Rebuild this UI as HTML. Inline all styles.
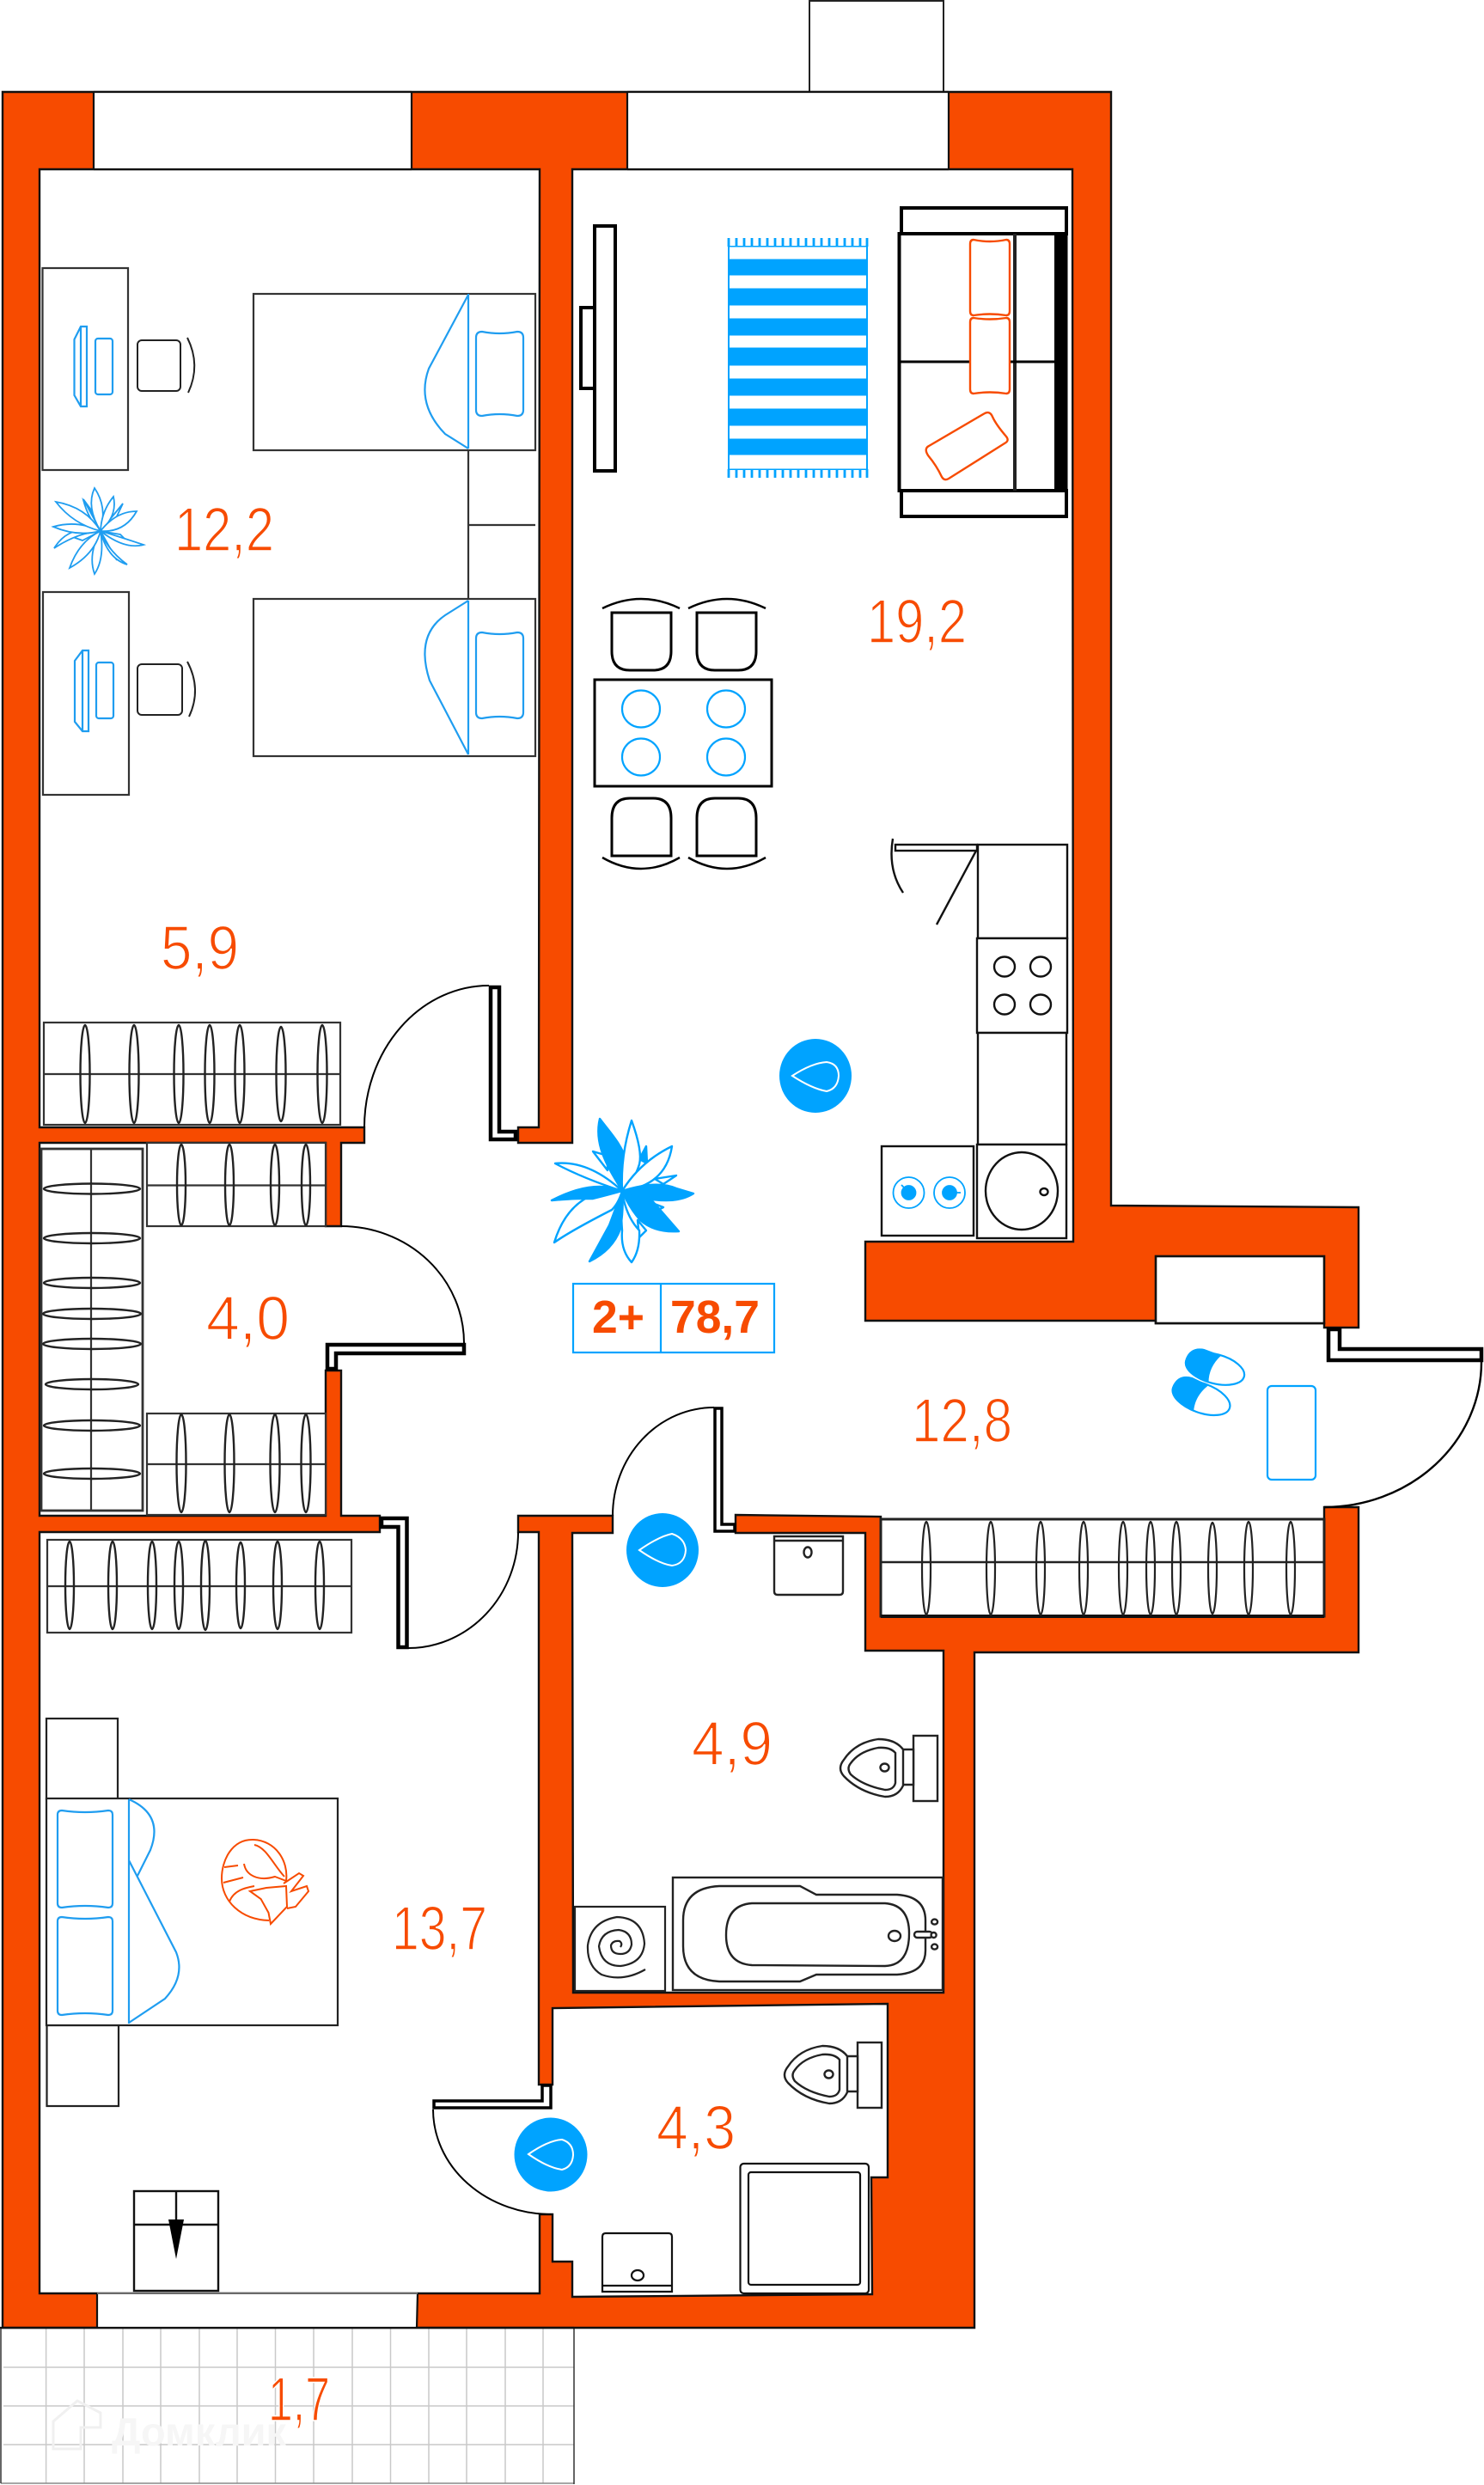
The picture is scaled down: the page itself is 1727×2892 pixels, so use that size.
<!DOCTYPE html>
<html><head><meta charset="utf-8"><style>
html,body{margin:0;padding:0;background:#fff}
svg{display:block}
.l{font-family:"Liberation Sans",sans-serif;font-size:72px;fill:#F74B00;stroke:#fff;stroke-width:1.6px}
.b{font-family:"Liberation Sans",sans-serif;font-size:54px;font-weight:bold;fill:#F74B00}
</style></head><body>
<svg xmlns="http://www.w3.org/2000/svg" width="1727" height="2892" viewBox="0 0 1727 2892">
<rect width="1727" height="2892" fill="#fff"/>
<!-- balcony -->
<g stroke="#c9c9c9" stroke-width="1.5" fill="none">
<path d="M53.6 2709V2890M98 2709V2890M143 2709V2890M187 2709V2890M232 2709V2890M276 2709V2890M320.5 2709V2890M365 2709V2890M410 2709V2890M454.5 2709V2890M499 2709V2890M543 2709V2890M588 2709V2890M632 2709V2890"/>
<path d="M4 2755H668M4 2800H668M4 2845H668"/>
<path d="M1 2890H668" stroke="#888"/>
</g>
<path d="M1 2709V2890M668 2709V2891" stroke="#333" stroke-width="1.5"/>
<path d="M62 2818L90 2794L117 2808V2825H94V2850H62Z" fill="none" stroke="#f0f0f0" stroke-width="3"/>
<text x="130" y="2846" font-family="Liberation Sans,sans-serif" font-size="46" font-weight="bold" fill="#f6f6f6" textLength="203" lengthAdjust="spacingAndGlyphs">Домклик</text>
<!-- top block -->
<rect x="942" y="1" width="156" height="106" fill="#fff" stroke="#222" stroke-width="2"/>
<!-- walls -->
<path fill="#F74B00" stroke="#111" stroke-width="2.4" stroke-linejoin="miter" d="M3 107H1293V1403L1581 1405V1545H1541V1540H1345V1537H1007V1445H1249L1248 197H666V1330H603V1312H627L628 197H46V1312H424V1330H397V1427H379V1330H46V1764H379V1595H397V1764H442V1783H46V2669H628V2577H643V2632H666V2673L1015 2670L1014 2534H1033V2332L643 2337V2426H627V1783H603V1764H713V1784H666L667 2319H1098L1098 1921H1007V1784H856V1763L1025 1765V1881H1541V1754H1581V1923H1134V2709H3Z"/>
<!-- windows / niche -->
<g fill="#fff" stroke="#111" stroke-width="2.2">
<rect x="109" y="108" width="370" height="89" stroke="none"/>
<path d="M109 107V197M479 197V107M109 107H479M109 197H479" fill="none"/>
<rect x="730" y="108" width="374" height="89" stroke="none"/>
<path d="M730 107V197M1104 197V107M730 107H1104M730 197H1104" fill="none"/>
<rect x="1345" y="1462" width="196" height="78" stroke-width="2.6"/>
<rect x="113" y="2670" width="373" height="38.5" stroke="none"/>
<path d="M113 2669V2709M486 2669L485 2709" fill="none"/>
<path d="M113 2669H486" fill="none" stroke="#888" stroke-width="1.5"/>
<path d="M0 2709H668" fill="none"/>
</g>
<!-- bedroom 1 -->
<g fill="none" stroke="#333" stroke-width="2.2">
<rect x="49.500" y="312" width="99.500" height="235"/>
<rect x="50" y="689" width="100" height="236"/>
<rect x="295" y="342" width="328" height="182"/>
<rect x="295" y="697" width="328" height="183"/>
<path d="M545 524V697M545 611H623"/>
</g>
<g fill="none" stroke="#222" stroke-width="2">
<rect x="160" y="396" width="50" height="59" rx="5"/>
<path d="M218 393Q234 425 219 457"/>
<rect x="160" y="773" width="52" height="59" rx="5"/>
<path d="M218 770Q235 802 220 834"/>
</g>
<g fill="none" stroke="#1F9DF0" stroke-width="2.200">
<path d="M86.500 395L94 380H101V473H94L86.500 460Z M94 380V473"/>
<rect x="111" y="394" width="20" height="65" rx="3"/>
<path d="M87 769L96 757H103V851H96L87 840Z M96 757V851"/>
<rect x="112" y="771" width="20" height="65" rx="3"/>
<path d="M545 342V522M545 343L499 429Q484 470 518 505L545 522"/>
<path d="M561 386Q581.500 390 602 386Q609 386 609 393V477Q609 484 602 484Q581.500 480 561 484Q554 484 554 477V393Q554 386 561 386Z"/>
<path d="M545 699V878M545 699L518 716Q483 740 500 792L545 878"/>
<path d="M561 736Q581.500 740 602 736Q609 736 609 743V829Q609 836 602 836Q581.500 832 561 836Q554 836 554 829V743Q554 736 561 736Z"/>
<!-- small plant -->
<g stroke-width="1.8" fill="#fff">
<path d="M117 618L97 581L105 592Z M117 618L100 585L97 582Q103 605 117 618Z"/>
<path d="M117 618L143 586L134 605Z"/>
<path d="M117 618L150 632L140 622Z"/>
<path d="M117 618L136 652L128 638Z"/>
<path d="M117 618L92 650L104 640Z"/>
<path d="M117 618L82 624L96 629Z"/>
<path d="M117 618Q100 590 110 568Q125 590 117 618Z"/>
<path d="M117 618Q118 595 132 578Q137 600 117 618Z"/>
<path d="M117 618Q135 595 159 595Q145 620 117 618Z"/>
<path d="M117 618Q140 625 167 634Q145 640 117 618Z"/>
<path d="M117 618Q125 640 148 657Q125 650 117 618Z"/>
<path d="M117 618Q122 650 110 668Q102 645 117 618Z"/>
<path d="M117 618Q110 645 81 661Q92 630 117 618Z"/>
<path d="M117 618Q90 620 63 638Q80 610 117 618Z"/>
<path d="M117 618Q90 625 62 613Q90 605 117 618Z"/>
<path d="M117 618Q85 610 65 584Q100 590 117 618Z"/>
</g>
</g>
<!-- living: tv -->
<g fill="#fff" stroke="#000" stroke-width="4">
<rect x="676" y="358" width="17" height="94"/>
<rect x="692" y="263" width="24" height="285"/>
</g>
<!-- rug -->
<g>
<rect x="847" y="286" width="163" height="261" fill="#00A3FF"/>
<g fill="#fff">
<rect x="849" y="287.500" width="159" height="14"/>
<rect x="849" y="320.500" width="159" height="15"/>
<rect x="849" y="355.500" width="159" height="15"/>
<rect x="849" y="390.500" width="159" height="14"/>
<rect x="849" y="425.500" width="159" height="15"/>
<rect x="849" y="460.500" width="159" height="15"/>
<rect x="849" y="495.500" width="159" height="15"/>
<rect x="849" y="529.500" width="159" height="16"/>
</g>
<path stroke="#00A3FF" stroke-width="2.800" fill="none" d="M848 277V287M857 277V287M866 277V287M875 277V287M884 277V287M893 277V287M902 277V287M911 277V287M920 277V287M929 277V287M938 277V287M947 277V287M956 277V287M965 277V287M974 277V287M983 277V287M992 277V287M1001 277V287M1009 277V287M848 546V556M857 546V556M866 546V556M875 546V556M884 546V556M893 546V556M902 546V556M911 546V556M920 546V556M929 546V556M938 546V556M947 546V556M956 546V556M965 546V556M974 546V556M983 546V556M992 546V556M1001 546V556M1009 546V556"/>
</g>
<!-- sofa -->
<g fill="#fff" stroke="#000" stroke-width="4">
<rect x="1049" y="242" width="192" height="30"/>
<rect x="1049" y="571" width="192" height="30"/>
<rect x="1046.500" y="272" width="194" height="299"/>
<path d="M1181 272V571" fill="none" stroke="#222"/>
<path d="M1047 421H1228" fill="none" stroke-width="3"/>
<rect x="1227" y="272" width="14" height="299" fill="#000" stroke="none"/>
</g>
<g fill="#fff" stroke="#F74B00" stroke-width="2.400">
<path d="M1133 279Q1152 283 1171 279Q1175 279 1175 284V362Q1175 367 1171 367Q1152 364 1133 367Q1129 367 1129 362V284Q1129 279 1133 279Z"/>
<path d="M1133 370Q1152 373 1171 370Q1175 370 1175 375V453Q1175 458 1171 458Q1152 455 1133 458Q1129 458 1129 453V375Q1129 370 1133 370Z"/>
<path d="M1081 519L1146 481Q1152 478 1155 485Q1159 494 1171 508Q1175 513 1169 516L1104 557Q1099 560 1096 555Q1090 542 1080 530Q1075 522 1081 519Z"/>
</g>
<!-- dining -->
<g fill="#fff" stroke="#000" stroke-width="3">
<rect x="692" y="791" width="206" height="124"/>
<path d="M712 713H781V758Q781 780 760 780H733Q712 780 712 758Z"/>
<path d="M811 713H880V758Q880 780 859 780H832Q811 780 811 758Z"/>
<path d="M712 996H781V952Q781 929 760 929H733Q712 929 712 952Z"/>
<path d="M811 996H880V952Q880 929 859 929H832Q811 929 811 952Z"/>
<path fill="none" d="M701 708Q746 686 791 708M801 708Q846 686 891 708M701 998Q746 1024 791 998M801 998Q846 1024 891 998" stroke-width="2.500"/>
</g>
<g fill="none" stroke="#00A3FF" stroke-width="2.200">
<ellipse cx="746" cy="825" rx="22" ry="21.500"/><ellipse cx="845" cy="825" rx="22" ry="21.500"/>
<ellipse cx="746" cy="881" rx="22" ry="21.500"/><ellipse cx="845" cy="881" rx="22" ry="21.500"/>
</g>
<!-- kitchen -->
<g fill="#fff" stroke="#111" stroke-width="2.400">
<rect x="1138" y="983" width="104" height="109"/>
<rect x="1137" y="1092" width="105" height="110"/>
<rect x="1138" y="1202" width="103" height="130"/>
<rect x="1137" y="1332" width="104" height="109"/>
<rect x="1026" y="1334" width="107" height="104"/>
<ellipse cx="1169" cy="1125" rx="12" ry="11.500"/><ellipse cx="1211" cy="1125" rx="12" ry="11.500"/>
<ellipse cx="1169" cy="1169" rx="12" ry="11.500"/><ellipse cx="1211" cy="1169" rx="12" ry="11.500"/>
<ellipse cx="1189" cy="1386" rx="42" ry="45"/>
<ellipse cx="1215" cy="1387" rx="4.500" ry="4"/>
<rect x="1042" y="983" width="95" height="7"/>
<path d="M1136 990L1090 1076M1039 976Q1033 1012 1051 1039" fill="none"/>
</g>
<g fill="none" stroke="#00A3FF" stroke-width="1.800">
<circle cx="1057.500" cy="1388" r="18"/><circle cx="1105" cy="1388" r="18"/>
<circle cx="1057.500" cy="1388" r="8" fill="#00A3FF"/><circle cx="1105" cy="1388" r="8" fill="#00A3FF"/>
<path d="M1049 1379L1055 1385M1110 1388H1118"/>
</g>
<!-- closets -->
<g fill="#fff" stroke="#333" stroke-width="2.200">
<rect x="51" y="1190" width="345" height="119"/>
<path d="M51 1250H396"/>
<rect x="171" y="1330" width="208" height="97"/>
<path d="M171 1379.500H379"/>
<rect x="48" y="1337" width="118" height="421" stroke-width="2.800"/>
<path d="M106 1337V1758"/>
<rect x="171" y="1645" width="208" height="118"/>
<path d="M171 1704H379"/>
<rect x="55" y="1792" width="354" height="108"/>
<path d="M55 1846H409"/>
</g>
<g fill="none" stroke="#222" stroke-width="2.400">
<ellipse cx="99" cy="1250" rx="5.500" ry="57"/><ellipse cx="156" cy="1250" rx="5.500" ry="57"/><ellipse cx="208" cy="1250" rx="5.500" ry="57"/><ellipse cx="244" cy="1250" rx="5.500" ry="57"/><ellipse cx="279" cy="1250" rx="5.500" ry="57"/><ellipse cx="327" cy="1250" rx="5.500" ry="55"/><ellipse cx="375" cy="1250" rx="5.500" ry="57"/>
<ellipse cx="211" cy="1379" rx="5" ry="47"/><ellipse cx="267" cy="1379" rx="5" ry="47"/><ellipse cx="320" cy="1379" rx="5" ry="47"/><ellipse cx="356" cy="1379" rx="5" ry="47"/>
<ellipse cx="211" cy="1703" rx="5.500" ry="57"/><ellipse cx="267" cy="1703" rx="5.500" ry="57"/><ellipse cx="320" cy="1703" rx="5.500" ry="57"/><ellipse cx="356" cy="1703" rx="5.500" ry="57"/>
<ellipse cx="107" cy="1383.500" rx="56" ry="6"/><ellipse cx="107" cy="1441" rx="56" ry="6"/><ellipse cx="107" cy="1493" rx="56" ry="6"/><ellipse cx="107" cy="1529" rx="57" ry="6"/><ellipse cx="107" cy="1564" rx="57" ry="6"/><ellipse cx="107" cy="1611" rx="54" ry="6"/><ellipse cx="107" cy="1659" rx="56" ry="6"/><ellipse cx="107" cy="1715" rx="56" ry="6"/>
<ellipse cx="81" cy="1845" rx="5" ry="51"/><ellipse cx="131" cy="1845" rx="5" ry="51"/><ellipse cx="177" cy="1845" rx="5" ry="51"/><ellipse cx="208" cy="1845" rx="5" ry="51"/><ellipse cx="239" cy="1845" rx="5" ry="52"/><ellipse cx="280" cy="1845" rx="5" ry="50"/><ellipse cx="323" cy="1845" rx="5" ry="51"/><ellipse cx="372" cy="1845" rx="5" ry="51"/>
</g>
<rect x="1025" y="1768" width="516" height="113" fill="#fff" stroke="#222" stroke-width="3"/>
<path d="M1025 1818H1541" stroke="#222" stroke-width="2.500"/>
<path d="M1025 1881H1541" stroke="#111" stroke-width="4"/>
<g fill="none" stroke="#222" stroke-width="2.200">
<ellipse cx="1078" cy="1825" rx="5" ry="54"/><ellipse cx="1153" cy="1825" rx="5" ry="54"/><ellipse cx="1211" cy="1825" rx="5" ry="54"/><ellipse cx="1261" cy="1825" rx="5" ry="54"/><ellipse cx="1307" cy="1825" rx="5" ry="54"/><ellipse cx="1339" cy="1825" rx="5" ry="54"/><ellipse cx="1369" cy="1825" rx="5" ry="54"/><ellipse cx="1411" cy="1825" rx="5" ry="53"/><ellipse cx="1453" cy="1825" rx="5" ry="54"/><ellipse cx="1502" cy="1825" rx="5" ry="54"/>
</g>
<!-- doors -->
<g fill="#fff" stroke="#000" stroke-width="4.500">
<path d="M571 1149H581V1317H600V1326H571Z"/>
<path d="M381 1593V1565H540V1575H391V1593Z"/>
<path d="M444 1767H473.500V1917H463.500V1777H444Z"/>
<path d="M1546 1547H1559V1570H1724V1583H1546Z"/>
<path d="M832 1639H840V1774H855V1782H832Z" stroke-width="3.500"/>
<path d="M641 2427V2453H505V2445H631V2427Z" stroke-width="3.500"/>
</g>
<g fill="none" stroke="#000" stroke-width="2">
<path d="M569 1147A145 165 0 0 0 424 1312"/>
<path d="M397 1427A143 136 0 0 1 540 1563"/>
<path d="M603 1783A128 135 0 0 1 475 1918"/>
<path d="M713 1764A118 126 0 0 1 831 1638"/>
<path d="M1724 1585A183 169 0 0 1 1541 1754" stroke-width="2.400"/>
<path d="M504 2455A138 122 0 0 0 642 2577"/>
</g>
<!-- drops -->
<g>
<ellipse cx="949" cy="1252" rx="42" ry="43" fill="#00A3FF"/>
<path d="M922 1252Q945 1237 962 1236Q976 1238 976 1252Q975 1267 962 1270Q945 1267 922 1252Z" fill="none" stroke="#fff" stroke-width="2"/>
<ellipse cx="771" cy="1804" rx="42" ry="43" fill="#00A3FF"/>
<path d="M744 1804Q767 1788 782 1785Q797 1790 798 1804Q797 1820 782 1822Q767 1820 744 1804Z" fill="none" stroke="#fff" stroke-width="2"/>
<ellipse cx="641" cy="2507.500" rx="42.500" ry="43" fill="#00A3FF"/>
<path d="M615 2507Q638 2491 654 2490Q667 2494 667 2508Q666 2522 654 2525Q638 2523 615 2507Z" fill="none" stroke="#fff" stroke-width="2"/>
</g>
<!-- big plant -->
<g fill="#fff" stroke="#00A3FF" stroke-width="2.400" stroke-linejoin="round">
<path d="M744 1349L752 1334L753 1354Z" fill="#00A3FF"/>
<path d="M707 1362L690 1340L707 1345Z"/>
<path d="M762 1372L787 1368L772 1378Z"/>
<path d="M754 1398L772 1405L762 1410Z"/>
<path d="M742 1420L752 1432L744 1440Z"/>
<path d="M724 1386C712 1365 690 1335 698 1302C710 1318 724 1332 729 1352L724 1386Z" fill="#00A3FF"/>
<path d="M724 1386Q722 1345 735 1304Q748 1340 744 1355Q738 1375 724 1386Z"/>
<path d="M724 1386Q745 1352 782 1334Q775 1380 724 1386Z"/>
<path d="M724 1386Q765 1373 787 1383L807 1389Q790 1400 760 1396Q740 1392 724 1386Z" fill="#00A3FF"/>
<path d="M724 1386Q745 1392 756 1394L790 1433Q762 1435 745 1420Q732 1405 724 1386Z" fill="#00A3FF"/>
<path d="M724 1386Q728 1415 744 1432Q745 1455 735 1469Q722 1455 724 1432Q722 1405 724 1386Z"/>
<path d="M724 1386L709 1426L686 1468Q713 1455 722 1430Q726 1405 724 1386Z" fill="#00A3FF"/>
<path d="M724 1386Q695 1390 681 1395Q656 1410 645 1446Q665 1432 712 1408Q720 1400 724 1386Z"/>
<path d="M724 1386Q690 1372 642 1397Q665 1395 673 1395L690 1395Q710 1390 724 1386Z" fill="#00A3FF"/>
<path d="M724 1386Q685 1350 646 1354Q680 1372 724 1386Z"/>
</g>
<!-- summary box -->
<g fill="none" stroke="#00A3FF" stroke-width="2.200">
<rect x="667" y="1494" width="234" height="80"/>
<path d="M769 1494V1574"/>
</g>
<text class="b" x="689" y="1551" textLength="61" lengthAdjust="spacingAndGlyphs">2+</text>
<text class="b" x="780" y="1551" textLength="104" lengthAdjust="spacingAndGlyphs">78,7</text>
<!-- slippers / mat -->
<g transform="translate(1414,1593) rotate(15)">
<ellipse rx="35" ry="17" fill="#fff" stroke="#00A3FF" stroke-width="2.200"/>
<path d="M3 -17Q-8 0 -3 18L-20 15Q-37 10 -36 -3Q-34 -18 -18 -19Z" fill="#00A3FF"/>
</g>
<g transform="translate(1398,1627) rotate(20)">
<ellipse rx="35" ry="17" fill="#fff" stroke="#00A3FF" stroke-width="2.200"/>
<path d="M3 -17Q-8 0 -3 18L-20 15Q-37 10 -36 -3Q-34 -18 -18 -19Z" fill="#00A3FF"/>
</g>
<rect x="1475" y="1613" width="56" height="109" rx="5" fill="#fff" stroke="#00A3FF" stroke-width="2.200"/>
<!-- sink corridor -->
<g fill="#fff" stroke="#222" stroke-width="2.400">
<path d="M901 1788H981V1852Q981 1856 977 1856H905Q901 1856 901 1852Z"/>
<path d="M901 1793H981" fill="none"/>
<ellipse cx="940" cy="1806.500" rx="4.500" ry="6"/>
</g>
<!-- toilet 1 -->
<g fill="#fff" stroke="#222" stroke-width="2.400">
<rect x="1063" y="2020" width="28" height="76"/>
<path d="M1051 2036H1063V2077H1051" />
<path d="M1051 2036Q1042 2024 1022 2024Q995 2028 982 2048Q974 2058 982 2067Q1000 2086 1030 2091Q1045 2091 1051 2078Z"/>
<path d="M1042 2040Q1036 2033 1022 2034Q1000 2038 990 2052Q985 2058 990 2065Q1004 2078 1030 2083Q1040 2083 1042 2075Z"/>
<ellipse cx="1029.500" cy="2057" rx="5" ry="4.500"/>
</g>
<!-- toilet 2 -->
<g transform="translate(-65,357)" fill="#fff" stroke="#222" stroke-width="2.400">
<rect x="1063" y="2020" width="28" height="76"/>
<path d="M1051 2036H1063V2077H1051" />
<path d="M1051 2036Q1042 2024 1022 2024Q995 2028 982 2048Q974 2058 982 2067Q1000 2086 1030 2091Q1045 2091 1051 2078Z"/>
<path d="M1042 2040Q1036 2033 1022 2034Q1000 2038 990 2052Q985 2058 990 2065Q1004 2078 1030 2083Q1040 2083 1042 2075Z"/>
<ellipse cx="1029.500" cy="2057" rx="5" ry="4.500"/>
</g>
<!-- washer -->
<g fill="#fff" stroke="#222" stroke-width="2.200">
<rect x="669" y="2219" width="105" height="98"/>
<path fill="none" d="M751 2292Q725 2307 700 2298Q683 2288 684 2264Q688 2236 718 2231Q748 2232 750 2262Q748 2285 722 2288Q700 2288 697 2265Q700 2247 720 2246Q735 2248 735 2263Q733 2274 722 2274Q711 2274 711 2264Q713 2258 721 2259Q725 2262 722 2266"/>
</g>
<!-- bath -->
<g fill="#fff" stroke="#222" stroke-width="2.400">
<rect x="783" y="2185" width="314" height="131"/>
<path d="M837 2195H931L950 2205H1044Q1077 2207 1077 2235V2270Q1077 2296 1044 2298H950L931 2306H837Q795 2304 795 2265V2235Q795 2197 837 2195Z"/>
<path d="M875 2215H1030Q1058 2217 1058 2250Q1058 2287 1030 2288L875 2287Q845 2285 845 2252Q845 2217 875 2215Z"/>
<ellipse cx="1041" cy="2253" rx="7" ry="6"/>
<rect x="1064" y="2248" width="21" height="7" rx="3.500"/>
<ellipse cx="1087.600" cy="2236.600" rx="3.500" ry="3"/><ellipse cx="1086.600" cy="2252" rx="3" ry="3"/><ellipse cx="1087.600" cy="2265.600" rx="3.500" ry="3"/>
</g>
<!-- 4,3 room -->
<g fill="#fff" stroke="#111" stroke-width="2.200">
<rect x="861.500" y="2518" width="149.500" height="151" rx="4"/>
<rect x="871" y="2528" width="130" height="131" rx="3"/>
<path d="M705 2599H778Q782 2599 782 2603V2667H701V2603Q701 2599 705 2599Z"/>
<path d="M701 2660H782" fill="none"/>
<ellipse cx="742" cy="2648" rx="7" ry="6"/>
</g>
<!-- bedroom 2 -->
<g fill="#fff" stroke="#222" stroke-width="2.200">
<rect x="54" y="2000" width="83" height="94"/>
<rect x="54.500" y="2357" width="83.500" height="94"/>
<rect x="54" y="2093" width="339" height="264"/>
</g>
<g fill="none" stroke="#1F9DF0" stroke-width="2.200">
<path d="M72 2107Q99 2111 126 2107Q131 2107 131 2112V2215Q131 2220 126 2220Q99 2216 72 2220Q67 2220 67 2215V2112Q67 2107 72 2107Z"/>
<path d="M72 2231Q99 2235 126 2231Q131 2231 131 2236V2340Q131 2345 126 2345Q99 2341 72 2345Q67 2345 67 2340V2236Q67 2231 72 2231Z"/>
<path d="M150 2094V2355M150 2094Q191 2112 175 2153L160 2183M150 2165L205 2272Q216 2300 192 2326L150 2354"/>
</g>
<g fill="none" stroke="#F74B00" stroke-width="2">
<path d="M333 2189C336 2165 320 2142 295 2141C270 2140 258 2165 258 2186C258 2212 280 2234 313 2235"/>
<path d="M284 2169C286 2182 300 2190 320 2184L333 2189M261 2173L277 2171M260 2191L283 2185M267 2213C272 2200 285 2197 296 2195M296 2147C310 2150 318 2170 331 2184"/>
<path d="M291 2201L310 2197L333 2195L334 2219L315 2239L312.500 2226L303.600 2210Z"/>
<path d="M330 2192L348 2180L353 2183L339 2201L357 2195L359 2201L344 2219L334 2221"/>
</g>
<!-- dresser -->
<g fill="#fff" stroke="#111" stroke-width="2.400">
<rect x="156" y="2550" width="98" height="116"/>
<path d="M156 2589H254M205 2550V2590" fill="none"/>
</g>
<path d="M196 2583H214L205 2629Z" fill="#000"/>
<!-- labels -->
<text class="l" x="203" y="641" textLength="116" lengthAdjust="spacingAndGlyphs">12,2</text>
<text class="l" x="187" y="1128" textLength="91" lengthAdjust="spacingAndGlyphs">5,9</text>
<text class="l" x="1009" y="748" textLength="116" lengthAdjust="spacingAndGlyphs">19,2</text>
<text class="l" x="240" y="1559" textLength="97" lengthAdjust="spacingAndGlyphs">4,0</text>
<text class="l" x="1061" y="1678" textLength="117" lengthAdjust="spacingAndGlyphs">12,8</text>
<text class="l" x="805" y="2054" textLength="94" lengthAdjust="spacingAndGlyphs">4,9</text>
<text class="l" x="764" y="2501" textLength="92" lengthAdjust="spacingAndGlyphs">4,3</text>
<text class="l" x="456" y="2269" textLength="111" lengthAdjust="spacingAndGlyphs">13,7</text>
<text class="l" x="312" y="2817" textLength="72" lengthAdjust="spacingAndGlyphs">1,7</text>
</svg>
</body></html>
